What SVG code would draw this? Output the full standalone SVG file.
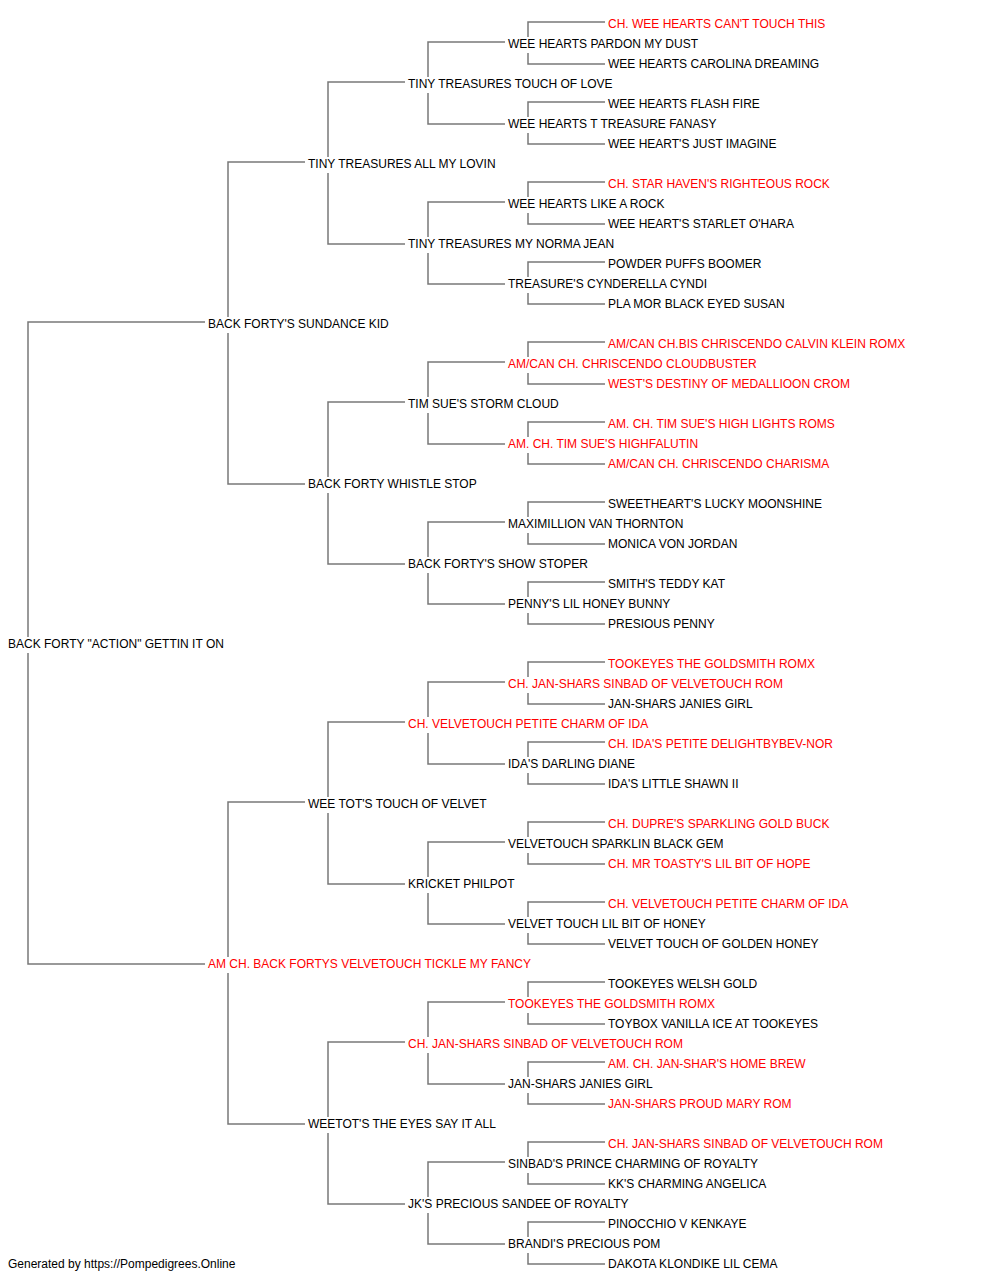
<svg xmlns="http://www.w3.org/2000/svg" width="1000" height="1280" viewBox="0 0 1000 1280">
<style>
text{font-family:"Liberation Sans",Arial,sans-serif;font-size:12px;fill:#000}
.ch{fill:#ff0000}
.c path{fill:none;stroke:#787878;stroke-width:1.5}
</style>
<rect width="1000" height="1280" fill="#fff"/>
<g id="connectors" class="c">
<path d="M205,322 H28 V637 M28,653 V964 H205"/>
<path d="M305,162 H228 V317 M228,333 V484 H305"/>
<path d="M305,802 H228 V957 M228,973 V1124 H305"/>
<path d="M405,82 H328 V157 M328,173 V244 H405"/>
<path d="M405,402 H328 V477 M328,493 V564 H405"/>
<path d="M405,722 H328 V797 M328,813 V884 H405"/>
<path d="M405,1042 H328 V1117 M328,1133 V1204 H405"/>
<path d="M505,42 H428 V77 M428,93 V124 H505"/>
<path d="M505,202 H428 V237 M428,253 V284 H505"/>
<path d="M505,362 H428 V397 M428,413 V444 H505"/>
<path d="M505,522 H428 V557 M428,573 V604 H505"/>
<path d="M505,682 H428 V717 M428,733 V764 H505"/>
<path d="M505,842 H428 V877 M428,893 V924 H505"/>
<path d="M505,1002 H428 V1037 M428,1053 V1084 H505"/>
<path d="M505,1162 H428 V1197 M428,1213 V1244 H505"/>
<path d="M605,22 H528 V37 M528,53 V64 H605"/>
<path d="M605,102 H528 V117 M528,133 V144 H605"/>
<path d="M605,182 H528 V197 M528,213 V224 H605"/>
<path d="M605,262 H528 V277 M528,293 V304 H605"/>
<path d="M605,342 H528 V357 M528,373 V384 H605"/>
<path d="M605,422 H528 V437 M528,453 V464 H605"/>
<path d="M605,502 H528 V517 M528,533 V544 H605"/>
<path d="M605,582 H528 V597 M528,613 V624 H605"/>
<path d="M605,662 H528 V677 M528,693 V704 H605"/>
<path d="M605,742 H528 V757 M528,773 V784 H605"/>
<path d="M605,822 H528 V837 M528,853 V864 H605"/>
<path d="M605,902 H528 V917 M528,933 V944 H605"/>
<path d="M605,982 H528 V997 M528,1013 V1024 H605"/>
<path d="M605,1062 H528 V1077 M528,1093 V1104 H605"/>
<path d="M605,1142 H528 V1157 M528,1173 V1184 H605"/>
<path d="M605,1222 H528 V1237 M528,1253 V1264 H605"/>
</g>
<g id="n-root"><text x="8" y="648">BACK FORTY "ACTION" GETTIN IT ON</text></g>
<g id="n-15"><text x="208" y="328">BACK FORTY'S SUNDANCE KID</text></g>
<g id="n-47"><text x="208" y="968" class="ch">AM CH. BACK FORTYS VELVETOUCH TICKLE MY FANCY</text></g>
<g id="n-7"><text x="308" y="168">TINY TREASURES ALL MY LOVIN</text></g>
<g id="n-23"><text x="308" y="488">BACK FORTY WHISTLE STOP</text></g>
<g id="n-39"><text x="308" y="808">WEE TOT'S TOUCH OF VELVET</text></g>
<g id="n-55"><text x="308" y="1128">WEETOT'S THE EYES SAY IT ALL</text></g>
<g id="n-3"><text x="408" y="88">TINY TREASURES TOUCH OF LOVE</text></g>
<g id="n-11"><text x="408" y="248">TINY TREASURES MY NORMA JEAN</text></g>
<g id="n-19"><text x="408" y="408">TIM SUE'S STORM CLOUD</text></g>
<g id="n-27"><text x="408" y="568">BACK FORTY'S SHOW STOPER</text></g>
<g id="n-35"><text x="408" y="728" class="ch">CH. VELVETOUCH PETITE CHARM OF IDA</text></g>
<g id="n-43"><text x="408" y="888">KRICKET PHILPOT</text></g>
<g id="n-51"><text x="408" y="1048" class="ch">CH. JAN-SHARS SINBAD OF VELVETOUCH ROM</text></g>
<g id="n-59"><text x="408" y="1208">JK'S PRECIOUS SANDEE OF ROYALTY</text></g>
<g id="n-1"><text x="508" y="48">WEE HEARTS PARDON MY DUST</text></g>
<g id="n-5"><text x="508" y="128">WEE HEARTS T TREASURE FANASY</text></g>
<g id="n-9"><text x="508" y="208">WEE HEARTS LIKE A ROCK</text></g>
<g id="n-13"><text x="508" y="288">TREASURE'S CYNDERELLA CYNDI</text></g>
<g id="n-17"><text x="508" y="368" class="ch">AM/CAN CH. CHRISCENDO CLOUDBUSTER</text></g>
<g id="n-21"><text x="508" y="448" class="ch">AM. CH. TIM SUE'S HIGHFALUTIN</text></g>
<g id="n-25"><text x="508" y="528">MAXIMILLION VAN THORNTON</text></g>
<g id="n-29"><text x="508" y="608">PENNY'S LIL HONEY BUNNY</text></g>
<g id="n-33"><text x="508" y="688" class="ch">CH. JAN-SHARS SINBAD OF VELVETOUCH ROM</text></g>
<g id="n-37"><text x="508" y="768">IDA'S DARLING DIANE</text></g>
<g id="n-41"><text x="508" y="848">VELVETOUCH SPARKLIN BLACK GEM</text></g>
<g id="n-45"><text x="508" y="928">VELVET TOUCH LIL BIT OF HONEY</text></g>
<g id="n-49"><text x="508" y="1008" class="ch">TOOKEYES THE GOLDSMITH ROMX</text></g>
<g id="n-53"><text x="508" y="1088">JAN-SHARS JANIES GIRL</text></g>
<g id="n-57"><text x="508" y="1168">SINBAD'S PRINCE CHARMING OF ROYALTY</text></g>
<g id="n-61"><text x="508" y="1248">BRANDI'S PRECIOUS POM</text></g>
<g id="n-0"><text x="608" y="28" class="ch">CH. WEE HEARTS CAN'T TOUCH THIS</text></g>
<g id="n-2"><text x="608" y="68">WEE HEARTS CAROLINA DREAMING</text></g>
<g id="n-4"><text x="608" y="108">WEE HEARTS FLASH FIRE</text></g>
<g id="n-6"><text x="608" y="148">WEE HEART'S JUST IMAGINE</text></g>
<g id="n-8"><text x="608" y="188" class="ch">CH. STAR HAVEN'S RIGHTEOUS ROCK</text></g>
<g id="n-10"><text x="608" y="228">WEE HEART'S STARLET O'HARA</text></g>
<g id="n-12"><text x="608" y="268">POWDER PUFFS BOOMER</text></g>
<g id="n-14"><text x="608" y="308">PLA MOR BLACK EYED SUSAN</text></g>
<g id="n-16"><text x="608" y="348" class="ch">AM/CAN CH.BIS CHRISCENDO CALVIN KLEIN ROMX</text></g>
<g id="n-18"><text x="608" y="388" class="ch">WEST'S DESTINY OF MEDALLIOON CROM</text></g>
<g id="n-20"><text x="608" y="428" class="ch">AM. CH. TIM SUE'S HIGH LIGHTS ROMS</text></g>
<g id="n-22"><text x="608" y="468" class="ch">AM/CAN CH. CHRISCENDO CHARISMA</text></g>
<g id="n-24"><text x="608" y="508">SWEETHEART'S LUCKY MOONSHINE</text></g>
<g id="n-26"><text x="608" y="548">MONICA VON JORDAN</text></g>
<g id="n-28"><text x="608" y="588">SMITH'S TEDDY KAT</text></g>
<g id="n-30"><text x="608" y="628">PRESIOUS PENNY</text></g>
<g id="n-32"><text x="608" y="668" class="ch">TOOKEYES THE GOLDSMITH ROMX</text></g>
<g id="n-34"><text x="608" y="708">JAN-SHARS JANIES GIRL</text></g>
<g id="n-36"><text x="608" y="748" class="ch">CH. IDA'S PETITE DELIGHTBYBEV-NOR</text></g>
<g id="n-38"><text x="608" y="788">IDA'S LITTLE SHAWN II</text></g>
<g id="n-40"><text x="608" y="828" class="ch">CH. DUPRE'S SPARKLING GOLD BUCK</text></g>
<g id="n-42"><text x="608" y="868" class="ch">CH. MR TOASTY'S LIL BIT OF HOPE</text></g>
<g id="n-44"><text x="608" y="908" class="ch">CH. VELVETOUCH PETITE CHARM OF IDA</text></g>
<g id="n-46"><text x="608" y="948">VELVET TOUCH OF GOLDEN HONEY</text></g>
<g id="n-48"><text x="608" y="988">TOOKEYES WELSH GOLD</text></g>
<g id="n-50"><text x="608" y="1028">TOYBOX VANILLA ICE AT TOOKEYES</text></g>
<g id="n-52"><text x="608" y="1068" class="ch">AM. CH. JAN-SHAR'S HOME BREW</text></g>
<g id="n-54"><text x="608" y="1108" class="ch">JAN-SHARS PROUD MARY ROM</text></g>
<g id="n-56"><text x="608" y="1148" class="ch">CH. JAN-SHARS SINBAD OF VELVETOUCH ROM</text></g>
<g id="n-58"><text x="608" y="1188">KK'S CHARMING ANGELICA</text></g>
<g id="n-60"><text x="608" y="1228">PINOCCHIO V KENKAYE</text></g>
<g id="n-62"><text x="608" y="1268">DAKOTA KLONDIKE LIL CEMA</text></g>
<text x="8" y="1268">Generated by https://Pompedigrees.Online</text>
</svg>
